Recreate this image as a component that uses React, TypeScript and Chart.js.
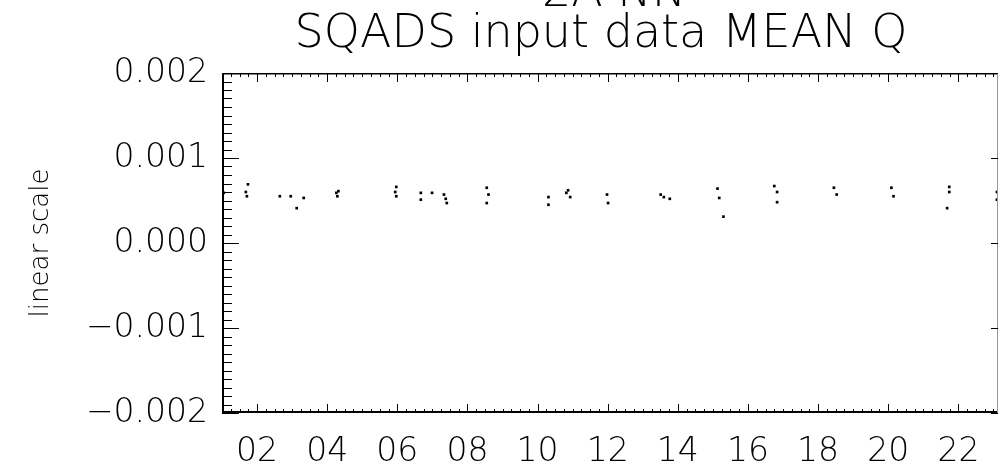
import React, { useEffect, useRef } from "react";
import { Chart, registerables } from "chart.js";

Chart.register(...registerables);

const TITLE_TOP = "2A NN";
const TITLE = "SQADS input data MEAN Q";
const Y_TITLE = "linear scale";
const X_TICKS = [2, 4, 6, 8, 10, 12, 14, 16, 18, 20, 22];
const Y_TICKS = [-0.002, -0.001, 0, 0.001, 0.002];
const X_MIN = 1;
const X_MAX = 23.13;
const Y_MIN = -0.002;
const Y_MAX = 0.002;

const hours = [
  1.05, 1.68, 1.71, 1.74, 2.65, 2.96, 3.13, 3.33, 4.26, 4.29, 4.32, 5.94, 5.97, 5.97,
  6.67, 6.67, 6.99, 7.33, 7.38, 7.41, 8.55, 8.6, 8.55, 10.31, 10.31, 10.82, 10.87, 10.93,
  11.98, 12.01, 13.51, 13.6, 13.77, 15.13, 15.18, 15.3, 16.75, 16.83, 16.83, 18.45, 18.53,
  20.09, 20.15, 21.74, 21.74, 21.68, 23.1, 23.1,
];
const meanQ = [
  0.00059, 0.0006, 0.00055, 0.00069, 0.00055, 0.00055, 0.00041, 0.00053, 0.00059, 0.00055,
  0.00061, 0.0006, 0.00066, 0.00055, 0.00059, 0.00051, 0.00059, 0.00057, 0.00052, 0.00047,
  0.00065, 0.00057, 0.00047, 0.00054, 0.00045, 0.00059, 0.00062, 0.00054, 0.00057, 0.00047,
  0.00057, 0.00054, 0.00052, 0.00064, 0.00053, 0.00031, 0.00067, 0.0006, 0.00048, 0.00065,
  0.00057, 0.00065, 0.00055, 0.00066, 0.0006, 0.00041, 0.0006, 0.00051,
];

const FONT = "'DejaVu Sans', sans-serif";
const WEIGHT = 200;

const framePlugin = {
  id: "idlFrame",
  afterDraw(chart: any) {
    const { ctx, chartArea } = chart;
    const xs = chart.scales.x;
    const ys = chart.scales.y;
    const { left, right, top, bottom } = chartArea;
    ctx.save();
    ctx.strokeStyle = "#000";
    ctx.lineWidth = 2;
    ctx.beginPath();
    ctx.moveTo(left + 1, top);
    ctx.lineTo(left + 1, bottom);
    ctx.moveTo(left, bottom - 1);
    ctx.lineTo(right, bottom - 1);
    ctx.stroke();
    ctx.lineWidth = 1.5;
    ctx.beginPath();
    ctx.moveTo(left, top + 0.75);
    ctx.lineTo(right, top + 0.75);
    ctx.stroke();
    ctx.strokeStyle = "#999";
    ctx.lineWidth = 1;
    ctx.beginPath();
    ctx.moveTo(right - 0.5, top);
    ctx.lineTo(right - 0.5, bottom);
    ctx.stroke();
    ctx.strokeStyle = "#000";
    ctx.lineWidth = 1;
    ctx.beginPath();
    for (let i = 0; X_MIN + i * 0.25 <= X_MAX; i++) {
      const h = X_MIN + i * 0.25;
      const px = Math.round(xs.getPixelForValue(h)) + 0.5;
      const major = Math.abs(h / 2 - Math.round(h / 2)) < 1e-6;
      const len = major ? 9 : 4;
      ctx.moveTo(px, bottom);
      ctx.lineTo(px, bottom - len);
      ctx.moveTo(px, top);
      ctx.lineTo(px, top + len);
    }
    for (let i = -20; i <= 20; i++) {
      const v = i * 0.0001;
      const py = Math.round(ys.getPixelForValue(v)) + 0.5;
      const major = i % 10 === 0;
      ctx.moveTo(left, py);
      ctx.lineTo(left + (major ? 17 : 10), py);
      if (major) {
        ctx.moveTo(right, py);
        ctx.lineTo(right - 7, py);
      }
    }
    ctx.stroke();
    ctx.fillStyle = "#000";
    ctx.textAlign = "center";
    ctx.textBaseline = "alphabetic";
    const cx = (left + right) / 2;
    ctx.font = `${WEIGHT} 46px ${FONT}`;
    ctx.fillText(TITLE_TOP, cx + 4, 6);
    ctx.fillText(TITLE, cx - 9, 47);
    ctx.restore();
  },
};

export default function App() {
  const ref = useRef<HTMLCanvasElement | null>(null);
  useEffect(() => {
    document.body.style.margin = "0";
    const canvas = ref.current;
    if (!canvas) return;
    const chart = new Chart(canvas, {
      type: "scatter",
      data: {
        datasets: [
          {
            label: "MEAN Q",
            data: hours.map((h, i) => ({ x: h, y: meanQ[i] })),
            pointStyle: "rect",
            pointRadius: 1.9,
            pointBorderWidth: 0,
            pointBackgroundColor: "#000",
            backgroundColor: "#000",
            borderColor: "#000",
          },
        ],
      },
      options: {
        responsive: false,
        animation: false,
        layout: { padding: { left: 0, right: 1, top: 73, bottom: 0 } },
        plugins: {
          legend: { display: false },
          tooltip: { enabled: false },
          title: { display: false },
        },
        scales: {
          x: {
            type: "linear",
            min: X_MIN,
            max: X_MAX,
            grid: { display: false, drawTicks: false },
            border: { display: false },
            afterBuildTicks: (s: any) => {
              s.ticks = X_TICKS.map((v) => ({ value: v }));
            },
            afterFit: (s: any) => {
              s.height = 60;
            },
            ticks: {
              autoSkip: false,
              maxRotation: 0,
              padding: 20,
              color: "#000",
              font: { family: FONT, size: 33, weight: WEIGHT },
              callback: (v: any) => String(v).padStart(2, "0"),
            },
          },
          y: {
            type: "linear",
            min: Y_MIN,
            max: Y_MAX,
            grid: { display: false, drawTicks: false },
            border: { display: false },
            afterBuildTicks: (s: any) => {
              s.ticks = Y_TICKS.map((v) => ({ value: v }));
            },
            afterFit: (s: any) => {
              s.width = 222;
            },
            ticks: {
              padding: 14,
              color: "#000",
              font: { family: FONT, size: 33, weight: WEIGHT },
              callback: (v: any) => {
                const n = Number(v);
                const s = Math.abs(n).toFixed(3);
                return n < -1e-9 ? "\u2212" + s : s;
              },
            },
            title: {
              display: true,
              text: Y_TITLE,
              color: "#000",
              font: { family: FONT, size: 26, weight: WEIGHT },
              padding: { top: 26, bottom: 0 },
            },
          },
        },
      },
      plugins: [framePlugin],
    });
    return () => chart.destroy();
  }, []);
  return (
    <div style={{ width: 1002, height: 473, background: "#fff" }}>
      <canvas ref={ref} width={1002} height={473} style={{ display: "block" }} />
    </div>
  );
}
